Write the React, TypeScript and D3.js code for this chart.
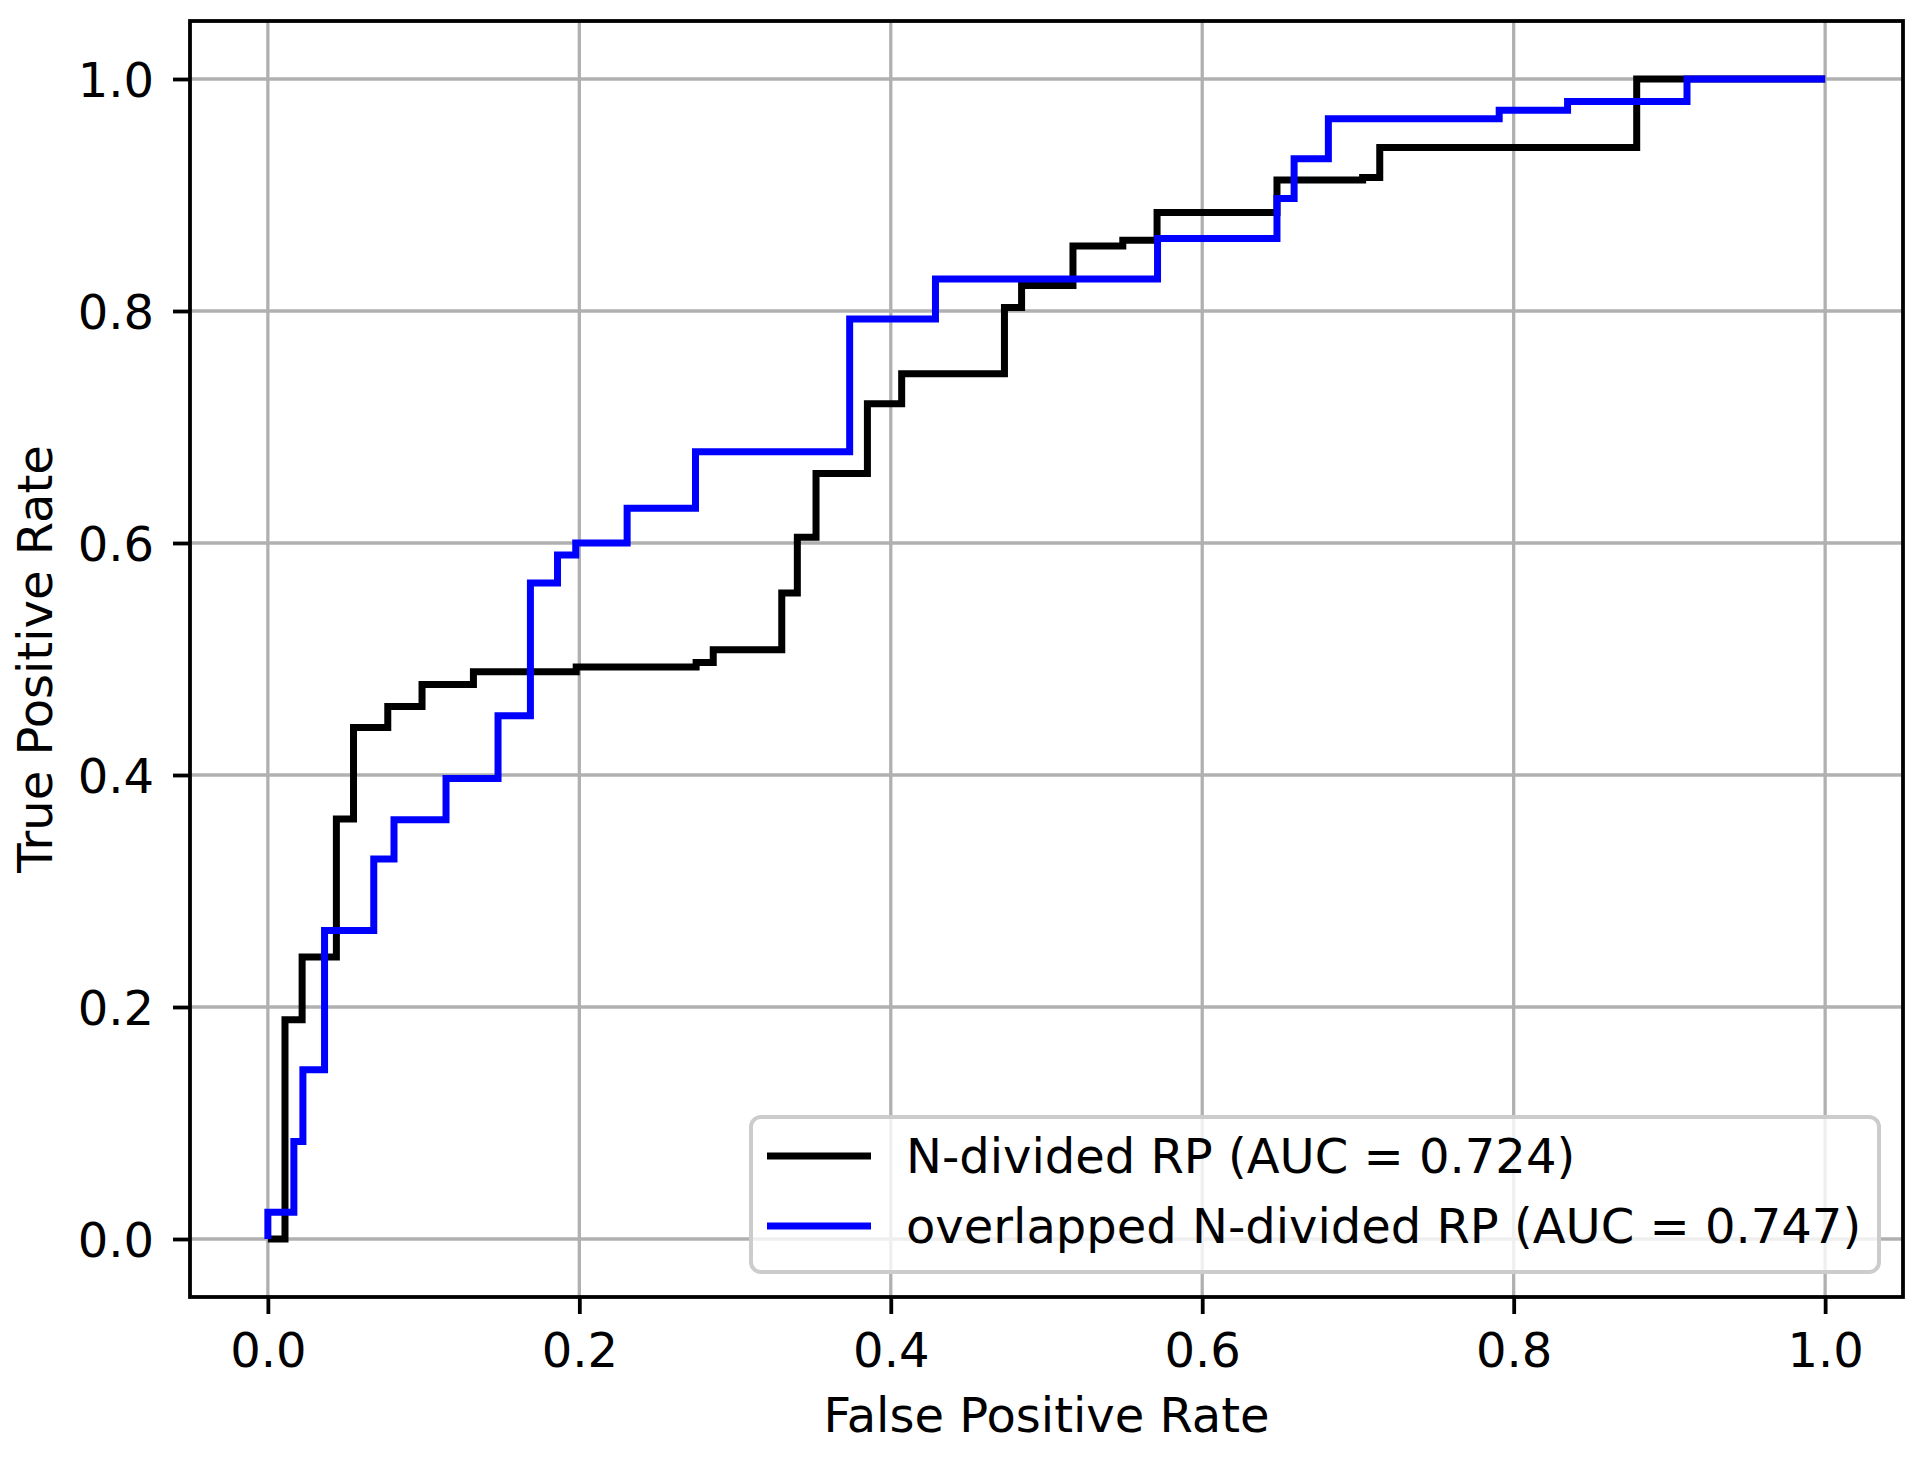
import { useEffect, useRef } from 'react';
import * as d3 from 'd3';

// ROC corner points (drawn as step-after curves)
const nDividedFpr = [0, 0.011, 0.022, 0.044, 0.055, 0.077, 0.099, 0.132, 0.198, 0.275, 0.286, 0.33, 0.34, 0.352, 0.385, 0.407, 0.473, 0.484, 0.517, 0.549, 0.571, 0.648, 0.703, 0.714, 0.879, 1.0];
const nDividedTpr = [0, 0.189, 0.243, 0.362, 0.441, 0.459, 0.478, 0.489, 0.493, 0.497, 0.508, 0.557, 0.605, 0.66, 0.72, 0.746, 0.803, 0.822, 0.856, 0.861, 0.885, 0.913, 0.915, 0.941, 1.0, 1.0];

const overlappedFpr = [0, 0, 0.0167, 0.0225, 0.0364, 0.068, 0.081, 0.1144, 0.1478, 0.1686, 0.186, 0.1977, 0.2307, 0.2746, 0.3736, 0.4287, 0.5713, 0.648, 0.659, 0.681, 0.7907, 0.8346, 0.9113, 1.0];
const overlappedTpr = [0, 0.023, 0.084, 0.146, 0.266, 0.3275, 0.3615, 0.397, 0.451, 0.5655, 0.5897, 0.6, 0.63, 0.6787, 0.793, 0.8276, 0.8624, 0.897, 0.9313, 0.9658, 0.973, 0.9807, 1.0, 1.0];

const seriesLabels = ['N-divided RP (AUC = 0.724)', 'overlapped N-divided RP (AUC = 0.747)'];
const seriesColors = ['#000000', '#0000ff'];
const tickValues = [0, 0.2, 0.4, 0.6, 0.8, 1.0];

type Pt = { x: number; y: number };

export default function App() {
  const svgRef = useRef<SVGSVGElement | null>(null);

  useEffect(() => {
    const svg = svgRef.current;
    if (!svg) return;

    const width = 1925;
    const height = 1458;
    const plot = { left: 190, right: 1903, top: 21, bottom: 1297 };
    const font = 'DejaVu Sans, sans-serif';
    const fontSize = 48;
    const lineWidth = 7;

    const x = d3.scaleLinear().domain([-0.05, 1.05]).range([plot.left, plot.right]);
    const y = d3.scaleLinear().domain([-0.05, 1.05]).range([plot.bottom, plot.top]);

    const series: Pt[][] = [
      nDividedFpr.map((v, i) => ({ x: v, y: nDividedTpr[i] })),
      overlappedFpr.map((v, i) => ({ x: v, y: overlappedTpr[i] }))
    ];

    const root = d3.select(svg);
    root.attr('viewBox', `0 0 ${width} ${height}`);
    root.selectAll('*').remove();

    root.append('rect').attr('width', width).attr('height', height).attr('fill', '#fff');

    // grid
    const grid = root.append('g').attr('stroke', '#b0b0b0').attr('stroke-width', 3.3);
    tickValues.forEach((t) => {
      grid.append('line').attr('x1', x(t)).attr('x2', x(t)).attr('y1', plot.top).attr('y2', plot.bottom);
      grid.append('line').attr('y1', y(t)).attr('y2', y(t)).attr('x1', plot.left).attr('x2', plot.right);
    });

    const line = d3
      .line<Pt>()
      .x((d) => x(d.x))
      .y((d) => y(d.y))
      .curve(d3.curveStepAfter);

    series.forEach((s, i) => {
      root
        .append('path')
        .datum(s)
        .attr('fill', 'none')
        .attr('stroke', seriesColors[i])
        .attr('stroke-width', lineWidth)
        .attr('stroke-linejoin', 'miter')
        .attr('d', line as any);
    });

    // axes
    const xAxis = root
      .append('g')
      .attr('transform', `translate(0,${plot.bottom})`)
      .call(d3.axisBottom(x).tickValues(tickValues).tickFormat(d3.format('.1f')).tickSize(17).tickPadding(14));
    const yAxis = root
      .append('g')
      .attr('transform', `translate(${plot.left},0)`)
      .call(d3.axisLeft(y).tickValues(tickValues).tickFormat(d3.format('.1f')).tickSize(17).tickPadding(19));
    [xAxis, yAxis].forEach((g) => {
      g.select('.domain').remove();
      g.selectAll('line').attr('stroke', '#000').attr('stroke-width', 3.8);
      g.selectAll('text').attr('font-family', font).attr('font-size', fontSize).attr('fill', '#000');
    });
    xAxis.selectAll('text').attr('dy', null).attr('y', 70);
    yAxis.selectAll('text').attr('dy', '0.36em');

    root
      .append('rect')
      .attr('x', plot.left)
      .attr('y', plot.top)
      .attr('width', plot.right - plot.left)
      .attr('height', plot.bottom - plot.top)
      .attr('fill', 'none')
      .attr('stroke', '#000')
      .attr('stroke-width', 3.8);

    root
      .append('text')
      .attr('x', (plot.left + plot.right) / 2)
      .attr('y', 1432)
      .attr('text-anchor', 'middle')
      .attr('font-family', font)
      .attr('font-size', fontSize)
      .text('False Positive Rate');

    root
      .append('text')
      .attr('transform', `translate(52,${(plot.top + plot.bottom) / 2}) rotate(-90)`)
      .attr('text-anchor', 'middle')
      .attr('font-family', font)
      .attr('font-size', fontSize)
      .text('True Positive Rate');

    // legend
    const legend = root.append('g');
    legend
      .append('rect')
      .attr('x', 751)
      .attr('y', 1117)
      .attr('width', 1879 - 751)
      .attr('height', 1272 - 1117)
      .attr('rx', 10)
      .attr('fill', '#fff')
      .attr('fill-opacity', 0.8)
      .attr('stroke', '#cccccc')
      .attr('stroke-width', 4);
    seriesLabels.forEach((label, i) => {
      const cy = 1156 + i * 70;
      legend
        .append('line')
        .attr('x1', 767)
        .attr('x2', 871)
        .attr('y1', cy)
        .attr('y2', cy)
        .attr('stroke', seriesColors[i])
        .attr('stroke-width', lineWidth);
      legend
        .append('text')
        .attr('x', 906)
        .attr('y', cy + 17)
        .attr('font-family', font)
        .attr('font-size', fontSize)
        .text(label);
    });
  }, []);

  return (
    <svg
      ref={svgRef}
      width={1925}
      height={1458}
      style={{ position: 'absolute', left: 0, top: 0, display: 'block' }}
    />
  );
}
